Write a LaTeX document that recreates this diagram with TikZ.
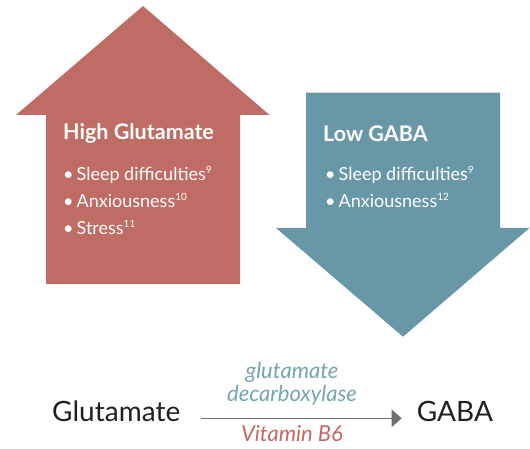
\documentclass[tikz,border=0pt]{standalone}
\usepackage{fontspec}
\setmainfont{Lato}
\usetikzlibrary{arrows.meta}
\definecolor{upred}{RGB}{191,108,100}
\definecolor{downteal}{RGB}{104,152,167}
\definecolor{lightteal}{RGB}{118,164,178}
\definecolor{vitred}{RGB}{196,104,98}
\definecolor{darktext}{RGB}{35,31,32}
\definecolor{convgray}{RGB}{110,111,114}
\newcommand{\refsup}[1]{\raisebox{6.5pt}{\fontsize{10}{10}\selectfont #1}}
\tikzset{
  head/.style={anchor=base west, inner sep=0pt, text=white, font=\fontsize{21.5}{24}\selectfont\bfseries},
  item/.style={anchor=base west, inner sep=0pt, text=white, font=\fontsize{18}{20}\selectfont},
  big/.style={anchor=base west, inner sep=0pt, text=darktext, font=\fontsize{28}{32}\selectfont},
  enz/.style={anchor=base, inner sep=0pt, font=\fontsize{22}{24}\selectfont\itshape},
  conv/.style={draw=convgray, line width=1.3pt, -{Triangle[length=10pt,width=17.4pt]}}
}
\begin{document}
\begin{tikzpicture}[x=1pt,y=-1pt]
\path[use as bounding box] (0,0) rectangle (530,449);
% up arrow
\fill[upred] (143,6) -- (269.5,115) -- (240,115) -- (240,284) -- (46,284) -- (46,115) -- (16,115) -- cycle;
% down arrow
\fill[downteal] (306,92.7) -- (500,92.7) -- (500,228) -- (529.5,228) -- (403,336.7) -- (276,228) -- (306,228) -- cycle;
% texts up
\node[head] (hg) at (63,140) {High Glutamate};
\node[item] (h1) at (63,180.5) {\textbullet\,Sleep difficulties\refsup{9}};
\node[item] (h2) at (63,207.5) {\textbullet\,Anxiousness\refsup{10}};
\node[item] (h3) at (63,234.5) {\textbullet\,Stress\refsup{11}};
% texts down
\node[head] (lg) at (323,141.5) {Low GABA};
\node[item] (l1) at (325,180.5) {\textbullet\,Sleep difficulties\refsup{9}};
\node[item] (l2) at (325,207.5) {\textbullet\,Anxiousness\refsup{12}};
% bottom
\node[big] (glu) at (52,421.7) {Glutamate};
\node[big] (gaba) at (416.7,421.7) {GABA};
\node[enz, text=lightteal] (enzyme) at (292,378) {glutamate};
\node[enz, text=lightteal] (enzyme2) at (292,401.7) {decarboxylase};
\node[enz, text=vitred] (vit) at (292,441.7) {Vitamin B6};
\draw[conv] ([xshift=21pt,yshift=3.4pt]glu.base east) -- ([xshift=-15pt,yshift=3.4pt]gaba.base west);
\end{tikzpicture}
\end{document}
